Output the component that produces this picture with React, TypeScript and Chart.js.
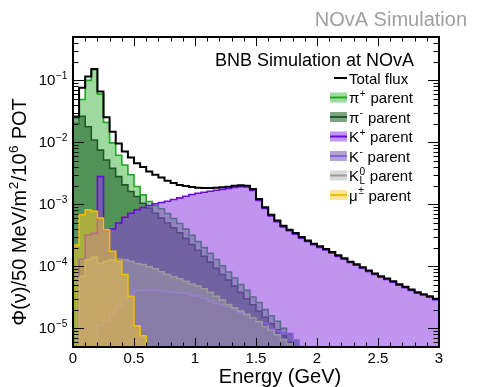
import React, { useEffect, useRef } from 'react';
import { Chart, registerables } from 'chart.js';
Chart.register(...registerables);

// 50 MeV bins, 0 - 3 GeV
const binEdgesGeV = [
  0, 0.05, 0.1, 0.15, 0.2, 0.25, 0.3, 0.35, 0.4, 0.45, 0.5, 0.55, 0.6, 0.65, 0.7, 0.75, 0.8, 0.85, 0.9, 0.95,
  1.0, 1.05, 1.1, 1.15, 1.2, 1.25, 1.3, 1.35, 1.4, 1.45, 1.5, 1.55, 1.6, 1.65, 1.7, 1.75, 1.8, 1.85, 1.9, 1.95,
  2.0, 2.05, 2.1, 2.15, 2.2, 2.25, 2.3, 2.35, 2.4, 2.45, 2.5, 2.55, 2.6, 2.65, 2.7, 2.75, 2.8, 2.85, 2.9, 2.95, 3.0,
];

const totalFlux = [
  0.026, 0.076, 0.115, 0.152, 0.066, 0.0255, 0.0148, 0.0096, 0.0071, 0.0057,
  0.0046, 0.0040, 0.0034, 0.0030, 0.0027, 0.0024, 0.0022, 0.00206, 0.00198, 0.0019,
  0.00186, 0.00184, 0.00184, 0.00186, 0.00189, 0.00193, 0.002, 0.00204, 0.002, 0.00176,
  0.00122, 0.0009, 0.00068, 0.00055, 0.000452, 0.00039, 0.000344, 0.000297, 0.000262, 0.000232,
  0.00021, 0.00019, 0.00017, 0.000151, 0.000135, 0.000119, 0.000108, 0.0000966, 0.0000855, 0.0000764,
  0.0000693, 0.0000636, 0.0000575, 0.0000515, 0.0000467, 0.0000423, 0.0000383, 0.0000356, 0.000033, 0.00003,
];

const piPlusFlux = [
  0.02, 0.049, 0.1, 0.148, 0.06, 0.021, 0.0098, 0.0062, 0.0043, 0.003,
  0.00194, 0.00142, 0.00111, 0.00096, 0.00085, 0.00071, 0.00059, 0.00049, 0.000398, 0.000316,
  0.000251, 0.0002, 0.000162, 0.000129, 0.000102, 0.000081, 0.000065, 0.000051, 0.000041, 0.000032,
  0.000026, 0.00002, 0.000016, 0.000013, 0.00001, 0.0000081, 0.0000065, 0.0000051, 0, 0,
  0, 0, 0, 0, 0, 0, 0, 0, 0, 0,
  0, 0, 0, 0, 0, 0, 0, 0, 0, 0,
];

const piMinusFlux = [
  0.025, 0.0264, 0.0178, 0.0109, 0.0075, 0.0052, 0.0038, 0.0028, 0.00206, 0.00161,
  0.00134, 0.00104, 0.00087, 0.00072, 0.0006, 0.0005, 0.000417, 0.000347, 0.000282, 0.000224,
  0.000182, 0.000145, 0.000117, 0.000093, 0.000074, 0.00006, 0.000048, 0.000038, 0.00003, 0.000024,
  0.000019, 0.000015, 0.000012, 0.0000095, 0.0000076, 0.000006, 0, 0, 0, 0,
  0, 0, 0, 0, 0, 0, 0, 0, 0, 0,
  0, 0, 0, 0, 0, 0, 0, 0, 0, 0,
];

const kPlusFlux = [
  0, 0.00013, 0.00032, 0.00034, 0.0028, 0.00038, 0.0004, 0.0005, 0.00062, 0.00072,
  0.00082, 0.00089, 0.00096, 0.00102, 0.00107, 0.00112, 0.0012, 0.00127, 0.00135, 0.00144,
  0.00151, 0.00157, 0.00163, 0.00169, 0.00174, 0.0018, 0.00188, 0.00193, 0.0019, 0.00168,
  0.00116, 0.00086, 0.00065, 0.000525, 0.000433, 0.000374, 0.00033, 0.000285, 0.000252, 0.000223,
  0.000202, 0.000183, 0.000164, 0.000145, 0.00013, 0.000115, 0.000104, 0.000093, 0.0000825, 0.0000737,
  0.0000669, 0.0000614, 0.0000555, 0.0000497, 0.0000451, 0.0000408, 0.000037, 0.0000344, 0.0000319, 0.000029,
];

const kMinusFlux = [
  0, 0, 0, 0.000003, 0.000011, 0.000013, 0.000017, 0.000023, 0.00003, 0.000036,
  0.00004, 0.000041, 0.000042, 0.000041, 0.00004, 0.000039, 0.000038, 0.0000375, 0.000037, 0.000034,
  0.000033, 0.000031, 0.0000275, 0.0000252, 0.000024, 0.0000223, 0.0000202, 0.0000179, 0.0000168, 0.0000148,
  0.0000126, 0.000012, 0.0000099, 0.000009, 0.0000085, 0.0000083, 0.0000063, 0, 0, 0,
  0, 0, 0, 0, 0, 0, 0, 0, 0, 0,
  0, 0, 0, 0, 0, 0, 0, 0, 0, 0,
];

const kZeroLFlux = [
  0, 0.000069, 0.000128, 0.00014, 0.000113, 0.000121, 0.000128, 0.000131, 0.000128, 0.000121,
  0.000111, 0.000107, 0.000098, 0.000091, 0.000082, 0.000074, 0.000068, 0.000063, 0.0000575, 0.000052,
  0.000048, 0.0000434, 0.0000383, 0.000033, 0.0000285, 0.0000243, 0.0000215, 0.000019, 0.0000168, 0.0000148,
  0.0000129, 0.0000107, 0.0000093, 0.0000079, 0.0000066, 0.0000056, 0, 0, 0, 0,
  0, 0, 0, 0, 0, 0, 0, 0, 0, 0,
  0, 0, 0, 0, 0, 0, 0, 0, 0, 0,
];

const muonFlux = [
  0.00022, 0.00068, 0.00082, 0.00077, 0.0006, 0.00039, 0.000175, 0.000121, 0.000074, 0.000033,
  0.000011, 0.0000076, 0.000004, 0, 0, 0, 0, 0, 0, 0,
  0, 0, 0, 0, 0, 0, 0, 0, 0, 0,
  0, 0, 0, 0, 0, 0, 0, 0, 0, 0,
  0, 0, 0, 0, 0, 0, 0, 0, 0, 0,
  0, 0, 0, 0, 0, 0, 0, 0, 0, 0,
];

const xMajorTicks = [0, 0.5, 1, 1.5, 2, 2.5, 3];
const xTickLabels = ['0', '0.5', '1', '1.5', '2', '2.5', '3'];
const xMinorTicks = [0.1, 0.2, 0.3, 0.4, 0.6, 0.7, 0.8, 0.9, 1.1, 1.2, 1.3, 1.4, 1.6, 1.7, 1.8, 1.9, 2.1, 2.2, 2.3, 2.4, 2.6, 2.7, 2.8, 2.9];
const yMajorTicks = [1e-5, 1e-4, 1e-3, 1e-2, 1e-1];
const yTickExponents = ['\u22125', '\u22124', '\u22123', '\u22122', '\u22121'];
const Y_MIN = 5e-6;
const Y_MAX = 0.5;

const FONT = '"Liberation Sans", Arial, Helvetica, sans-serif';

type Part = { t: string; m?: 'sup' | 'sub' | 'ss'; sub?: string };

const legendItems: { parts: Part[]; line: string; fill: string | null }[] = [
  { parts: [{ t: 'Total flux' }], line: '#000000', fill: null },
  { parts: [{ t: '\u03c0' }, { t: '+', m: 'sup' }, { t: ' parent' }], line: '#1fa81f', fill: 'rgba(40,170,40,0.45)' },
  { parts: [{ t: '\u03c0' }, { t: '-', m: 'sup' }, { t: ' parent' }], line: '#1e5a28', fill: 'rgba(20,90,30,0.55)' },
  { parts: [{ t: 'K' }, { t: '+', m: 'sup' }, { t: ' parent' }], line: '#6a0dd6', fill: 'rgba(140,60,225,0.55)' },
  { parts: [{ t: 'K' }, { t: '-', m: 'sup' }, { t: ' parent' }], line: '#8660e0', fill: 'rgba(100,70,170,0.5)' },
  { parts: [{ t: 'K' }, { t: '0', m: 'ss', sub: 'L' }, { t: ' parent' }], line: '#9a9a9a', fill: 'rgba(170,170,170,0.45)' },
  { parts: [{ t: '\u03bc' }, { t: '\u00b1', m: 'sup' }, { t: ' parent' }], line: '#f0c000', fill: 'rgba(255,205,40,0.5)' },
];

const seriesValues = [totalFlux, piPlusFlux, piMinusFlux, kPlusFlux, kMinusFlux, kZeroLFlux, muonFlux];

function toPoints(vals: number[]) {
  const pts = vals.map((v, i) => ({ x: binEdgesGeV[i], y: v > 0 ? v : 1e-9 }));
  const last = vals[vals.length - 1];
  pts.push({ x: binEdgesGeV[vals.length], y: last > 0 ? last : 1e-9 });
  return pts;
}

function drawRich(ctx: CanvasRenderingContext2D, parts: Part[], x: number, y: number, size: number, align: 'left' | 'right' | 'center') {
  const small = size * 0.68;
  const widths = parts.map((p) => {
    if (!p.m) {
      ctx.font = `${size}px ${FONT}`;
      return ctx.measureText(p.t).width;
    }
    ctx.font = `${small}px ${FONT}`;
    const w1 = ctx.measureText(p.t).width;
    const w2 = p.sub ? ctx.measureText(p.sub).width : 0;
    return Math.max(w1, w2) + 1;
  });
  const total = widths.reduce((a, b) => a + b, 0);
  let cx = align === 'left' ? x : align === 'right' ? x - total : x - total / 2;
  ctx.textAlign = 'left';
  ctx.textBaseline = 'alphabetic';
  parts.forEach((p, i) => {
    if (!p.m) {
      ctx.font = `${size}px ${FONT}`;
      ctx.fillText(p.t, cx, y);
    } else {
      ctx.font = `${small}px ${FONT}`;
      ctx.fillText(p.t, cx + 0.5, y - size * 0.42);
      if (p.sub) ctx.fillText(p.sub, cx + 0.5, y + size * 0.22);
    }
    cx += widths[i];
  });
  return total;
}

const overlayPlugin = {
  id: 'overlay',
  afterDraw(chart: any) {
    const { ctx, chartArea: a, scales } = chart;
    const xs = scales.x;
    const ys = scales.y;
    ctx.save();
    ctx.strokeStyle = '#000';
    ctx.fillStyle = '#000';
    ctx.lineWidth = 1;
    ctx.beginPath();
    xMajorTicks.forEach((v) => {
      const px = Math.round(xs.getPixelForValue(v)) + 0.5;
      ctx.moveTo(px, a.bottom); ctx.lineTo(px, a.bottom - 9);
      ctx.moveTo(px, a.top); ctx.lineTo(px, a.top + 9);
    });
    xMinorTicks.forEach((v) => {
      const px = Math.round(xs.getPixelForValue(v)) + 0.5;
      ctx.moveTo(px, a.bottom); ctx.lineTo(px, a.bottom - 4.5);
      ctx.moveTo(px, a.top); ctx.lineTo(px, a.top + 4.5);
    });
    yMajorTicks.forEach((v) => {
      const py = Math.round(ys.getPixelForValue(v)) + 0.5;
      ctx.moveTo(a.left, py); ctx.lineTo(a.left + 11, py);
      ctx.moveTo(a.right, py); ctx.lineTo(a.right - 11, py);
    });
    for (let e = -6; e <= -1; e++) {
      for (let m = 2; m <= 9; m++) {
        const v = m * Math.pow(10, e);
        if (v < Y_MIN || v > Y_MAX) continue;
        const py = Math.round(ys.getPixelForValue(v)) + 0.5;
        ctx.moveTo(a.left, py); ctx.lineTo(a.left + 5.5, py);
        ctx.moveTo(a.right, py); ctx.lineTo(a.right - 5.5, py);
      }
    }
    ctx.stroke();
    ctx.lineWidth = 2;
    ctx.strokeRect(a.left, a.top, a.right - a.left, a.bottom - a.top);

    ctx.font = `15px ${FONT}`;
    ctx.textAlign = 'center';
    ctx.textBaseline = 'alphabetic';
    xMajorTicks.forEach((v, i) => {
      ctx.fillText(xTickLabels[i], xs.getPixelForValue(v), a.bottom + 16);
    });
    yMajorTicks.forEach((v, i) => {
      const py = ys.getPixelForValue(v);
      drawRich(ctx, [{ t: '10' }, { t: yTickExponents[i], m: 'sup' }], a.left - 5, py + 5, 15, 'right');
    });

    ctx.fillStyle = '#000';
    ctx.font = `20px ${FONT}`;
    ctx.textAlign = 'center';
    ctx.fillText('Energy (GeV)', 280, 383);
    ctx.save();
    ctx.translate(26, 212);
    ctx.rotate(-Math.PI / 2);
    drawRich(ctx, [{ t: '\u03a6(\u03bd)/50 MeV/m' }, { t: '2', m: 'sup' }, { t: '/10' }, { t: '6', m: 'sup' }, { t: ' POT' }], 0, 0, 20, 'center');
    ctx.restore();

    ctx.fillStyle = '#a0a0a0';
    ctx.font = `20px ${FONT}`;
    ctx.textAlign = 'right';
    ctx.fillText('NOvA Simulation', 467, 26);

    ctx.fillStyle = '#000';
    ctx.font = `18px ${FONT}`;
    ctx.textAlign = 'right';
    ctx.fillText('BNB Simulation at NOvA', 414, 66);

    const rowY = [78, 97.5, 117, 136.5, 156, 175.5, 195];
    legendItems.forEach((it, i) => {
      const cy = rowY[i];
      if (it.fill) {
        ctx.fillStyle = it.fill;
        ctx.fillRect(330, cy - 5, 17, 10);
      }
      ctx.strokeStyle = it.line;
      ctx.lineWidth = 2;
      ctx.beginPath();
      ctx.moveTo(it.fill ? 330 : 334, cy);
      ctx.lineTo(347, cy);
      ctx.stroke();
      ctx.fillStyle = '#000';
      drawRich(ctx, it.parts, 349, cy + 5.5, 15, 'left');
    });
    ctx.restore();
  },
};

export default function App() {
  const ref = useRef<HTMLCanvasElement | null>(null);
  useEffect(() => {
    if (!ref.current) return;
    const styles = legendItems;
    const orders = [0, 6, 5, 4, 3, 2, 1];
    const datasets = seriesValues.map((vals, i) => ({
      label: 'series' + i,
      data: toPoints(vals),
      stepped: 'before' as const,
      borderColor: styles[i].line,
      backgroundColor: styles[i].fill || 'rgba(0,0,0,0)',
      fill: styles[i].fill ? 'start' : false,
      borderWidth: i === 0 ? 2 : 1.6,
      pointRadius: 0,
      order: orders[i],
    }));
    const chart = new Chart(ref.current, {
      type: 'line',
      data: { datasets },
      options: {
        animation: false,
        responsive: false,
        maintainAspectRatio: false,
        layout: { padding: { left: 73, right: 49, top: 37, bottom: 40 } },
        plugins: { legend: { display: false }, tooltip: { enabled: false } },
        scales: {
          x: { type: 'linear', min: 0, max: 3, display: false },
          y: { type: 'logarithmic', min: Y_MIN, max: Y_MAX, display: false },
        },
      },
      plugins: [overlayPlugin],
    } as any);
    return () => chart.destroy();
  }, []);
  return (
    <div style={{ position: 'fixed', left: 0, top: 0, width: 488, height: 387, background: '#fff' }}>
      <canvas ref={ref} width={488} height={387} style={{ width: 488, height: 387 }} />
    </div>
  );
}
